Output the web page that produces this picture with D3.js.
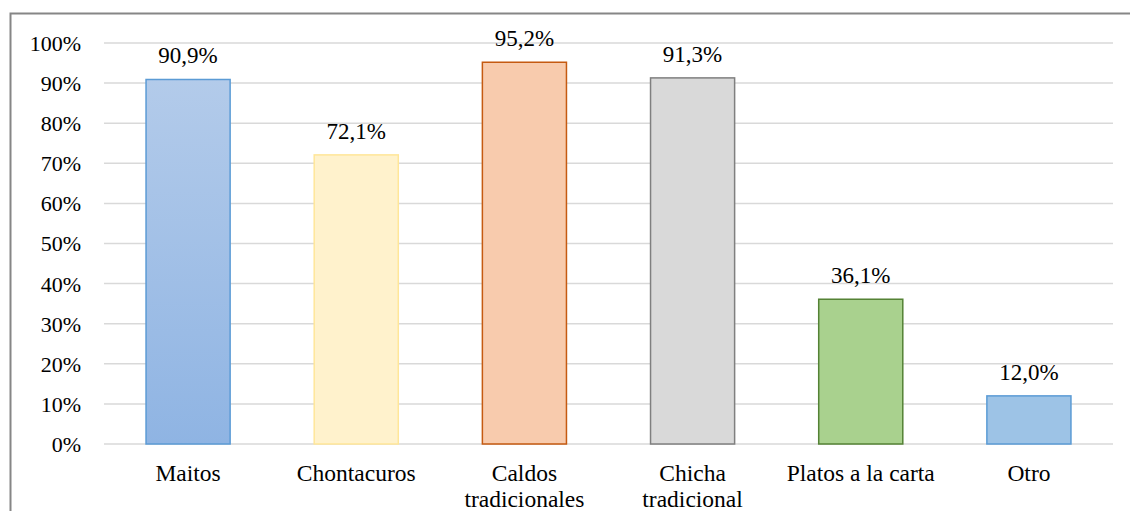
<!DOCTYPE html>
<html>
<head>
<meta charset="utf-8">
<script src="https://cdn.jsdelivr.net/npm/d3@7"></script>
<style>
  html, body { margin: 0; padding: 0; background: #fff; }
  svg { display: block; }
</style>
</head>
<body>
<svg id="chart" width="1130" height="511"></svg>
<script>
// Categories and their shares (fractions of 1)
const categories = [["Maitos"], ["Chontacuros"], ["Caldos", "tradicionales"], ["Chicha", "tradicional"], ["Platos a la carta"], ["Otro"]];
const values = [0.909, 0.721, 0.952, 0.913, 0.361, 0.120];
const valueLabels = ["90,9%", "72,1%", "95,2%", "91,3%", "36,1%", "12,0%"];
const tickValues = [0, 0.1, 0.2, 0.3, 0.4, 0.5, 0.6, 0.7, 0.8, 0.9, 1.0];
const tickLabels = ["0%", "10%", "20%", "30%", "40%", "50%", "60%", "70%", "80%", "90%", "100%"];
const fills = ["url(#gradBlue)", "#fff2cc", "#f8cbad", "#d9d9d9", "#a9d18e", "#9dc3e6"];
const strokes = ["#5b9bd5", "#ffe699", "#c55a11", "#7f7f7f", "#548235", "#5b9bd5"];

const FONT = "\"Liberation Serif\"";

const svg = d3.select("#chart");

// gradient for the first bar
const defs = svg.append("defs");
const g1 = defs.append("linearGradient").attr("id", "gradBlue")
  .attr("x1", 0).attr("y1", 0).attr("x2", 0).attr("y2", 1);
g1.append("stop").attr("offset", "0%").attr("stop-color", "#b3cbea");
g1.append("stop").attr("offset", "100%").attr("stop-color", "#8fb4e3");

// outer frame (partially cropped on right and bottom)
svg.append("rect")
  .attr("x", 10.5).attr("y", 13.5)
  .attr("width", 1200).attr("height", 600)
  .attr("fill", "none").attr("stroke", "#868686").attr("stroke-width", 2);

const plotLeft = 104, plotRight = 1113, plotTop = 43, plotBottom = 444;

const x = d3.scaleBand().domain(d3.range(categories.length)).range([plotLeft, plotRight]).paddingInner(0.5).paddingOuter(0.25);
const y = d3.scaleLinear().domain([0, 1]).range([plotBottom, plotTop]);

// gridlines
svg.append("g").selectAll("line").data(tickValues).join("line")
  .attr("x1", plotLeft).attr("x2", plotRight)
  .attr("y1", d => y(d)).attr("y2", d => y(d))
  .attr("stroke", "#d9d9d9").attr("stroke-width", 1.5);

// y axis labels
const yAxis = d3.axisLeft(y).tickValues(tickValues).tickFormat((d, i) => tickLabels[i]).tickSize(0).tickPadding(23);
const ya = svg.append("g").attr("transform", `translate(${plotLeft},0)`).call(yAxis);
ya.select(".domain").remove();
ya.selectAll("text").attr("fill", "#000").attr("dy", "0.34em")
  .style("font-family", FONT).style("font-size", "22px");

// bars
svg.append("g").selectAll("rect").data(values).join("rect")
  .attr("x", (d, i) => x(i))
  .attr("y", d => y(d))
  .attr("width", x.bandwidth())
  .attr("height", d => y(0) - y(d))
  .attr("fill", (d, i) => fills[i])
  .attr("stroke", (d, i) => strokes[i])
  .attr("stroke-width", 1.5);

// value labels
svg.append("g").selectAll("text").data(values).join("text")
  .attr("x", (d, i) => x(i) + x.bandwidth() / 2)
  .attr("y", d => y(d) - 16)
  .attr("text-anchor", "middle")
  .attr("fill", "#000")
  .style("font-family", FONT).style("font-size", "23px")
  .text((d, i) => valueLabels[i]);

// category labels
const cat = svg.append("g").selectAll("text").data(categories).join("text")
  .attr("x", (d, i) => x(i) + x.bandwidth() / 2)
  .attr("y", 481)
  .attr("text-anchor", "middle")
  .attr("fill", "#000")
  .style("font-family", FONT).style("font-size", "23.5px");
cat.selectAll("tspan").data(d => d).join("tspan")
  .attr("x", function() { return d3.select(this.parentNode).attr("x"); })
  .attr("dy", (d, j) => j === 0 ? 0 : 25.5)
  .text(d => d);
</script>
</body>
</html>
